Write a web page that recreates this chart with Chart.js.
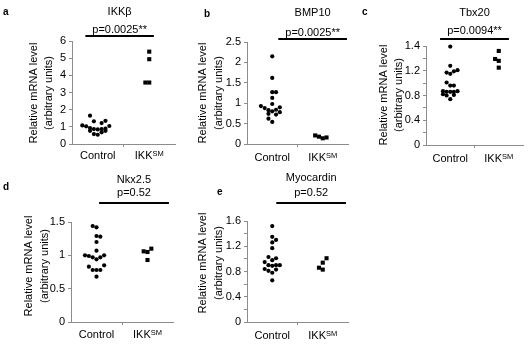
<!DOCTYPE html>
<html>
<head>
<meta charset="utf-8">
<script src="https://cdn.jsdelivr.net/npm/chart.js@4/dist/chart.umd.min.js"></script>
<style>
  html, body { margin: 0; padding: 0; background: #fff; }
  #fig { position: relative; width: 531px; height: 348px; }
  #fig canvas { position: absolute; left: 0; top: 0; }
</style>
</head>
<body>
<div id="fig">
  <canvas id="pa" width="531" height="348"></canvas>
  <canvas id="pb" width="531" height="348"></canvas>
  <canvas id="pc" width="531" height="348"></canvas>
  <canvas id="pd" width="531" height="348"></canvas>
  <canvas id="pe" width="531" height="348"></canvas>
</div>
<script>
// ── DATA ──
const groupLabels = ['Control', 'IKK'];
const groupSup    = ['', 'SM'];
const yTitle      = ['Relative mRNA level', '(arbitrary units)'];

// a — IKKβ
const ikkbCtrl    = [1.65, 1.32, 1.35, 1.22, 1.08, 1.03, 1.05, 0.93, 0.87, 0.85, 0.87, 0.89, 0.77, 0.77, 0.68, 0.58, 0.54];
const ikkbCtrlCol = [-2, -1, 2, 1, -4, -3, 3, -2, -1, 0, 1, 2, -2, 2, 1, -1, 0];
const ikkbSm      = [5.38, 4.94, 3.58, 3.58];
const ikkbSmCol   = [0, 0, -1, 0];
const ikkbTicks   = ['0', '1', '2', '3', '4', '5', '6'];

// b — BMP10
const bmpCtrl    = [2.15, 1.62, 1.27, 1.27, 1.13, 0.98, 0.93, 0.88, 0.83, 0.80, 0.84, 0.90, 0.78, 0.74, 0.72, 0.62, 0.54];
const bmpCtrlCol = [0, 0, 0, 1, 0, 0, -3, -2, -1, 0, 1, 2, 2, -1, 1, -1, 0];
const bmpSm      = [0.21, 0.18, 0.14, 0.16];
const bmpSmCol   = [-2, -1, 0, 1];
const bmpTicks   = ['0', '0.5', '1', '1.5', '2', '2.5'];

// c — Tbx20
const tbxCtrl    = [1.59, 1.28, 1.17, 1.15, 1.19, 1.21, 1.01, 0.96, 0.96, 0.87, 0.86, 0.86, 0.86, 0.87, 0.82, 0.80, 0.81, 0.74];
const tbxCtrlCol = [0, 0, -1, 0, 1, 2, -1, 0, 1, -2, -1, 0, 1, 2, -2, -1, 1, 0];
const tbxSm      = [1.52, 1.39, 1.36, 1.25];
const tbxSmCol   = [0, -1, 0, 0];
const tbxTicks   = ['0', '', '0.4', '', '0.8', '', '1.2', '', '1.4'];

// d — Nkx2.5
const nkxCtrl    = [1.44, 1.42, 1.29, 1.28, 1.20, 1.07, 1.00, 0.99, 0.97, 0.94, 0.97, 1.00, 0.83, 0.85, 0.78, 0.78, 0.78, 0.68];
const nkxCtrlCol = [-1, 0, 0, 1, 0, 0, -3, -2, -1, 0, 1, 2, -2, 2, -1, 0, 1, 0];
const nkxSm      = [1.06, 1.05, 1.10, 0.93];
const nkxSmCol   = [-1, 0, 1, 0];
const nkxTicks   = ['0', '0.5', '1', '1.5'];

// e — Myocardin
const myoCtrl    = [1.52, 1.35, 1.30, 1.26, 1.17, 1.03, 1.01, 0.98, 0.95, 0.90, 0.89, 0.90, 0.90, 0.84, 0.81, 0.83, 0.78, 0.66];
const myoCtrlCol = [0, 0, 1, 0, 0, -1, 1, 0, -2, -1, 0, 1, 2, -2, -1, 1, 0, 0];
const myoSm      = [0.86, 0.83, 0.94, 1.01];
const myoSmCol   = [-1, 0, 0, 1];
const myoTicks   = ['0', '', '0.4', '', '0.8', '', '1.2', '', '1.6'];

// ── STYLE ──
const FONT_FAMILY = '"Liberation Sans", Arial, sans-serif';
const AXIS        = '#8c8c8c';
const Y_W = 30, X_H = 3;           // fixed axis box sizes
const COL_STEP = 0.075;            // horizontal spacing between stacked dots
const groupCenters = [0.5, 1.5];

Chart.defaults.font.family = FONT_FAMILY;
Chart.defaults.font.size   = 11;
Chart.defaults.color       = '#000';

// ── TEXT, P-VALUE BAR, AXIS TITLES, CATEGORY LABELS ──
const decor = {
  id: 'decor',
  afterDraw(chart, args, o) {
    const ctx = chart.ctx, xs = chart.scales.x;
    ctx.save();
    ctx.fillStyle = '#000';
    ctx.textBaseline = 'middle';

    ctx.font = 'bold 10px ' + FONT_FAMILY;
    ctx.textAlign = 'left';
    ctx.fillText(o.letter, o.letterPos[0], o.letterPos[1]);

    const x1 = xs.getPixelForValue(o.bar[0]);
    const x2 = xs.getPixelForValue(o.bar[1]);
    const cx = (x1 + x2) / 2;
    ctx.font = '11px ' + FONT_FAMILY;
    ctx.textAlign = 'center';
    ctx.fillText(o.gene, cx, o.geneY);
    ctx.fillText(o.pText, cx, o.pY);
    ctx.strokeStyle = '#000';
    ctx.lineWidth = 2;
    ctx.beginPath();
    ctx.moveTo(x1, o.barY);
    ctx.lineTo(x2, o.barY);
    ctx.stroke();

    yTitle.forEach((t, i) => {
      ctx.save();
      ctx.translate(o.yTitleX[i], o.yTitleY);
      ctx.rotate(-Math.PI / 2);
      ctx.fillText(t, 0, 0);
      ctx.restore();
    });

    groupLabels.forEach((lab, i) => {
      const px = xs.getPixelForValue(groupCenters[i]);
      ctx.font = '11px ' + FONT_FAMILY;
      const w1 = ctx.measureText(lab).width;
      ctx.font = '7.5px ' + FONT_FAMILY;
      const w2 = groupSup[i] ? ctx.measureText(groupSup[i]).width : 0;
      const start = px - (w1 + w2) / 2;
      ctx.textAlign = 'left';
      ctx.font = '11px ' + FONT_FAMILY;
      ctx.fillText(lab, start, o.labelY);
      if (groupSup[i]) {
        ctx.font = '7.5px ' + FONT_FAMILY;
        ctx.fillText(groupSup[i], start + w1, o.labelY - 2.5);
      }
    });
    ctx.restore();
  }
};

function toPoints(values, cols, center) {
  return values.map((v, i) => ({ x: center + cols[i] * COL_STEP, y: v }));
}

function makePanel(id, p) {
  const [L, T, R, B] = p.box;
  return new Chart(document.getElementById(id), {
    type: 'scatter',
    data: {
      datasets: [
        { data: toPoints(p.ctrl, p.ctrlCol, groupCenters[0]), pointStyle: 'circle', pointRadius: 2.1,
          backgroundColor: '#000', borderWidth: 0, clip: false },
        { data: toPoints(p.sm, p.smCol, groupCenters[1]), pointStyle: 'rect', pointRadius: 2.9,
          backgroundColor: '#000', borderWidth: 0, clip: false }
      ]
    },
    options: {
      responsive: false,
      animation: false,
      events: [],
      layout: { padding: { left: L - Y_W, top: T, right: 531 - R, bottom: 348 - B - X_H } },
      plugins: {
        legend:  { display: false },
        tooltip: { enabled: false },
        decor: p.decor
      },
      scales: {
        x: {
          type: 'linear', min: 0, max: 2,
          afterFit: s => { s.height = X_H; },
          ticks: { display: false, stepSize: 1 },
          grid: { drawOnChartArea: false, tickLength: 3,
                  color: c => (c.tick && c.tick.value === 1) ? AXIS : 'rgba(0,0,0,0)' },
          border: { color: AXIS }
        },
        y: {
          min: 0, max: p.yMax,
          afterFit: s => { s.width = Y_W; },
          ticks: { stepSize: p.yStep, autoSkip: false, padding: 3,
                   callback: (v, i) => p.yTicks[i] },
          grid: { drawOnChartArea: false, tickLength: 3, color: AXIS },
          border: { color: AXIS }
        }
      }
    },
    plugins: [decor]
  });
}

makePanel('pa', {
  box: [72, 41, 175, 144], yMax: 6, yStep: 1, yTicks: ikkbTicks,
  ctrl: ikkbCtrl, ctrlCol: ikkbCtrlCol, sm: ikkbSm, smCol: ikkbSmCol,
  decor: { letter: 'a', letterPos: [3, 12], gene: 'IKKβ', geneY: 12, pText: 'p=0.0025**', pY: 30,
           bar: [0.26, 1.59], barY: 36, yTitleX: [33.5, 49], yTitleY: 93, labelY: 156 }
});
makePanel('pb', {
  box: [247, 42, 348, 144], yMax: 2.5, yStep: 0.5, yTicks: bmpTicks,
  ctrl: bmpCtrl, ctrlCol: bmpCtrlCol, sm: bmpSm, smCol: bmpSmCol,
  decor: { letter: 'b', letterPos: [204, 14], gene: 'BMP10', geneY: 13, pText: 'p=0.0025**', pY: 33,
           bar: [0.62, 1.98], barY: 39, yTitleX: [203, 219], yTitleY: 93, labelY: 158 }
});
makePanel('pc', {
  box: [426, 46, 523, 145], yMax: 1.6, yStep: 0.2, yTicks: tbxTicks,
  ctrl: tbxCtrl, ctrlCol: tbxCtrlCol, sm: tbxSm, smCol: tbxSmCol,
  decor: { letter: 'c', letterPos: [362, 12], gene: 'Tbx20', geneY: 13, pText: 'p=0.0094**', pY: 31,
           bar: [0.29, 1.71], barY: 39, yTitleX: [383.5, 398.5], yTitleY: 95, labelY: 159 }
});
makePanel('pd', {
  box: [71, 222, 173, 322], yMax: 1.5, yStep: 0.5, yTicks: nkxTicks,
  ctrl: nkxCtrl, ctrlCol: nkxCtrlCol, sm: nkxSm, smCol: nkxSmCol,
  decor: { letter: 'd', letterPos: [3, 187], gene: 'Nkx2.5', geneY: 180, pText: 'p=0.52', pY: 193,
           bar: [0.55, 1.92], barY: 203, yTitleX: [29, 44.5], yTitleY: 266, labelY: 335 }
});
makePanel('pe', {
  box: [247, 221, 348, 322], yMax: 1.6, yStep: 0.2, yTicks: myoTicks,
  ctrl: myoCtrl, ctrlCol: myoCtrlCol, sm: myoSm, smCol: myoSmCol,
  decor: { letter: 'e', letterPos: [217, 192], gene: 'Myocardin', geneY: 178, pText: 'p=0.52', pY: 193,
           bar: [0.58, 1.96], barY: 203, yTitleX: [203.3, 218.5], yTitleY: 263, labelY: 336 }
});
</script>
</body>
</html>
